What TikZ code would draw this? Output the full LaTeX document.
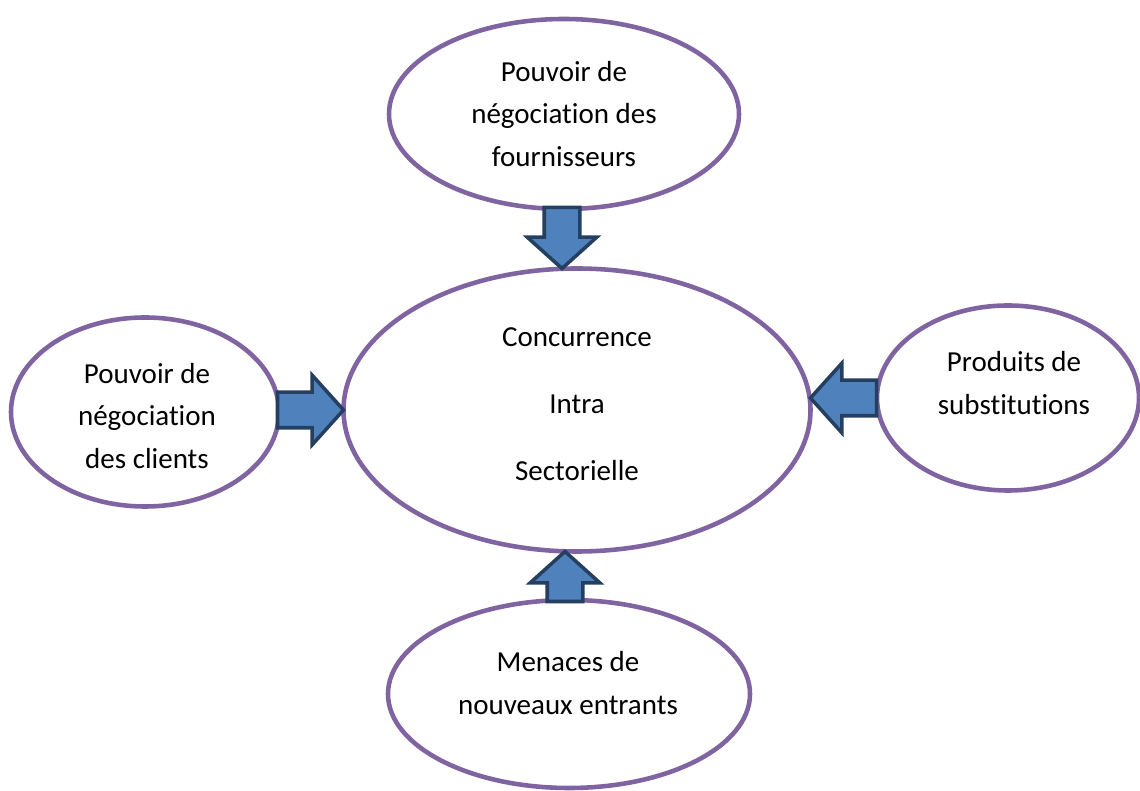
\documentclass[tikz,border=0pt]{standalone}
\usepackage{fontspec}
\setmainfont{Carlito}[Ligatures={NoCommon,NoContextual}, Contextuals=NoAlternate]
\usepackage{tikz}
\usetikzlibrary{calc}
\usetikzlibrary{positioning}
\usetikzlibrary{shapes.geometric}
\usetikzlibrary{shapes.arrows}

\definecolor{forcepurple}{HTML}{8064A2}
\definecolor{flowblue}{HTML}{4F81BD}
\definecolor{flowdark}{HTML}{243F60}

\tikzset{
  force/.style={ellipse, draw=forcepurple, line width=2.6pt, fill=white, inner sep=0pt, outer sep=0pt},
  forcetext/.style={align=center, font=\fontsize{16.5}{24}\selectfont},
  flow/.style={single arrow, draw=flowdark, fill=flowblue, line width=2pt, outer sep=0pt,
    inner xsep=0pt, inner ysep=0.32cm, single arrow head extend=0.34cm,
    single arrow tip angle=96, anchor=tip}
}

\begin{document}
\begin{tikzpicture}
\fill[white] (0,0) rectangle (22.8,15.82);
\useasboundingbox (0,0) rectangle (22.8,15.82);

\node[force, minimum width=7.0cm, minimum height=3.8cm] (four) at (11.28,13.54) {};
\node[force, minimum width=9.34cm, minimum height=5.66cm] (conc) at (11.54,7.62) {};
\node[force, minimum width=5.36cm, minimum height=3.78cm] (clients) at (2.90,7.58) {};
\node[force, minimum width=5.24cm, minimum height=3.7cm] (subst) at (20.16,7.86) {};
\node[force, minimum width=7.24cm, minimum height=3.76cm] (entrants) at (11.38,1.94) {};

\node[forcetext] (four-t) at (11.28,13.54) {Pouvoir de\\négociation des\\fournisseurs};
\node[forcetext, font=\fontsize{16.5}{38}\selectfont] (conc-t) at (11.54,7.74) {Concurrence\\Intra\\Sectorielle};
\node[forcetext] (clients-t) at (2.94,7.50) {Pouvoir de\\négociation\\des clients};
\node[forcetext] (subst-t) at (20.28,8.16) {Produits de\\substitutions};
\node[forcetext] (entrants-t) at (11.36,2.16) {Menaces de\\nouveaux entrants};

\node[flow, minimum height=1.22cm, rotate=-90] (four-a) at ($(four.south |- conc.north)+(-0.04,0)$) {};
\node[flow, minimum height=1.32cm] (clients-a) at (conc.west) {};
\node[flow, minimum height=1.32cm, rotate=180] (subst-a) at (subst.west -| conc.east) {};
\node[flow, minimum height=1.0cm, rotate=90] (entrants-a) at ($(entrants.north |- conc.south)+(-0.08,0)$) {};
\end{tikzpicture}
\end{document}
